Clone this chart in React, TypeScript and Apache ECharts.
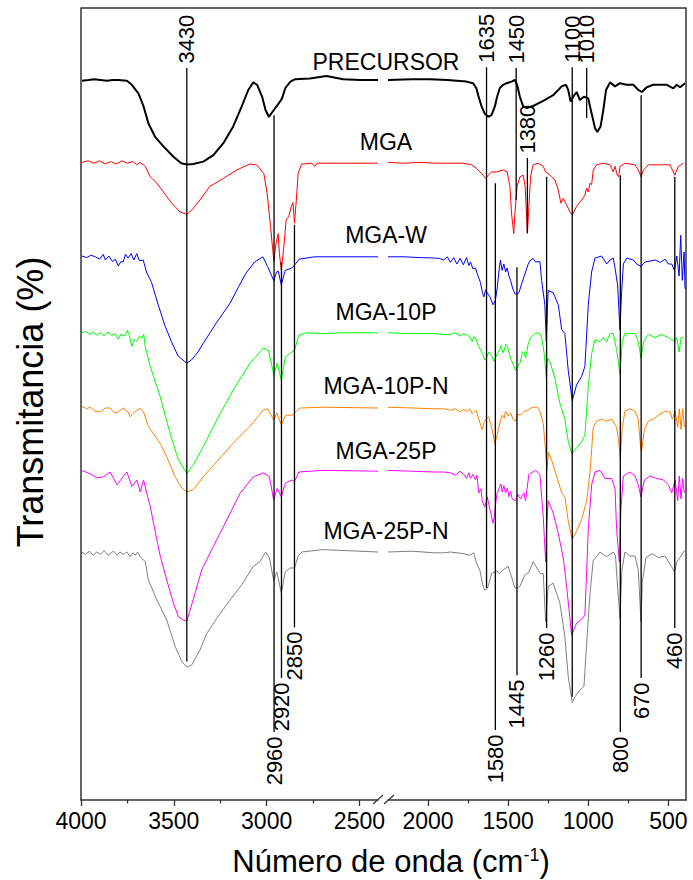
import React, { useEffect, useRef } from "react";
import * as echarts from "echarts";

type Pt = [number, number];

// FTIR spectra: [wavenumber (cm-1), transmittance (offset, %)]
const precursor: Pt[] = [
  [3995, 89.9], [3960, 90.0], [3930, 90.1], [3895, 90.0], [3860, 89.9], [3830, 90.0], [3800, 90.0], [3753, 89.9],
  [3726, 89.4], [3690, 88.3], [3663, 86.7], [3637, 84.6], [3601, 82.9], [3556, 81.7], [3502, 80.4], [3460, 79.6],
  [3430, 79.45], [3395, 79.5], [3341, 79.8], [3287, 80.6], [3233, 82.1], [3180, 84.2], [3134, 86.7], [3099, 88.75],
  [3072, 89.7], [3051, 89.4], [3024, 87.9], [3006, 86.25], [2988, 85.4], [2961, 86.25], [2934, 87.1], [2917, 87.7],
  [2899, 89.0], [2872, 89.8], [2845, 90.1], [2767, 90.2], [2678, 90.5], [2588, 90.1], [2498, 90.0], [2400, 90.0],
  [2250, 90.0], [2100, 90.1], [1989, 90.1], [1880, 90.0], [1760, 89.8], [1719, 89.6], [1698, 88.95], [1687, 88.1],
  [1666, 86.7], [1646, 85.8], [1625, 85.4], [1604, 85.6], [1583, 86.7], [1569, 87.9], [1552, 89.0], [1531, 89.4],
  [1510, 89.6], [1479, 89.8], [1458, 90.0], [1444, 89.4], [1427, 87.9], [1406, 86.7], [1385, 86.5], [1344, 86.75],
  [1281, 87.4], [1219, 88.1], [1166, 89.2], [1139, 89.4], [1125, 88.75], [1110, 87.3], [1094, 87.9], [1073, 88.5],
  [1052, 87.5], [1027, 87.9], [1000, 87.7], [979, 85.8], [958, 84.0], [944, 83.5], [923, 84.2], [906, 86.25],
  [889, 88.75], [864, 89.7], [833, 89.2], [802, 89.6], [760, 89.4], [719, 89.4], [687, 88.75], [666, 88.5],
  [635, 89.1], [594, 89.4], [510, 89.4], [469, 88.95], [448, 89.4], [427, 89.1], [396, 89.6],
];

const mga: Pt[] = [
  [3995, 79.7], [3960, 79.9], [3930, 79.6], [3900, 79.9], [3870, 79.5], [3840, 79.8], [3810, 79.5], [3780, 79.9],
  [3750, 79.6], [3720, 79.8], [3700, 79.4], [3681, 79.7], [3654, 79.2], [3627, 77.9], [3591, 77.1], [3556, 76.0],
  [3511, 74.6], [3466, 73.5], [3430, 73.2], [3403, 73.75], [3359, 75.0], [3306, 76.7], [3233, 77.7], [3161, 78.75],
  [3090, 79.5], [3054, 79.4], [3015, 78.3], [2997, 75.8], [2979, 71.7], [2961, 67.3], [2949, 69.6], [2938, 70.8],
  [2931, 68.3], [2921, 66.25], [2907, 69.2], [2895, 72.5], [2881, 72.9], [2867, 74.2], [2858, 74.7], [2850, 72.1],
  [2840, 75.0], [2830, 78.3], [2812, 79.5], [2758, 79.6], [2740, 79.2], [2728, 79.6], [2600, 79.6], [2400, 79.6],
  [2250, 79.7], [2150, 79.6], [2050, 79.7], [1950, 79.6], [1850, 79.6], [1781, 79.6], [1729, 79.4], [1698, 78.96],
  [1666, 78.3], [1640, 77.7], [1625, 78.1], [1604, 78.5], [1573, 78.5], [1531, 78.75], [1506, 78.5], [1489, 76.7],
  [1479, 73.3], [1465, 70.8], [1458, 73.3], [1444, 76.7], [1427, 77.9], [1406, 78.1], [1394, 76.7], [1385, 72.9],
  [1380, 70.8], [1373, 73.3], [1360, 77.9], [1344, 79.4], [1313, 79.6], [1281, 79.2], [1266, 78.5], [1250, 78.3],
  [1229, 77.9], [1208, 77.5], [1187, 76.25], [1171, 74.6], [1156, 75.2], [1135, 74.4], [1114, 73.5], [1100, 73.1],
  [1073, 74.2], [1041, 75.0], [1021, 75.6], [1010, 76.5], [1000, 76.0], [989, 77.1], [979, 76.9], [969, 78.75],
  [948, 79.4], [906, 79.6], [864, 79.4], [844, 78.5], [833, 79.2], [819, 78.1], [810, 77.9], [802, 79.2],
  [771, 79.6], [708, 79.4], [687, 78.75], [670, 77.9], [656, 78.75], [625, 79.4], [552, 79.4], [490, 79.4],
  [469, 78.5], [460, 78.1], [438, 79.2], [406, 79.6],
];

const mgaW: Pt[] = [
  [3995, 68.0], [3970, 67.8], [3945, 68.1], [3923, 67.9], [3900, 67.6], [3880, 68.2], [3869, 67.5], [3850, 68.0],
  [3830, 67.3], [3815, 67.6], [3799, 66.75], [3785, 67.3], [3773, 67.25], [3760, 68.2], [3746, 67.75], [3730, 68.3],
  [3715, 67.5], [3700, 68.3], [3685, 67.4], [3665, 67.5], [3647, 66.0], [3620, 64.7], [3584, 61.9], [3548, 59.3],
  [3513, 57.3], [3477, 55.5], [3430, 54.6], [3405, 55.0], [3370, 56.0], [3341, 57.1], [3269, 59.7], [3197, 62.1],
  [3150, 64.2], [3110, 65.9], [3065, 67.25], [3020, 67.9], [2995, 66.7], [2961, 64.9], [2947, 66.0], [2937, 66.1],
  [2921, 64.4], [2900, 66.2], [2864, 66.5], [2845, 67.0], [2825, 67.6], [2742, 67.9], [2400, 67.9],
  [2250, 67.9], [2150, 67.9], [2050, 67.8], [1964, 67.75], [1930, 67.7], [1902, 67.5], [1880, 67.9], [1860, 67.2],
  [1840, 67.8], [1820, 67.0], [1800, 67.7], [1780, 66.9], [1760, 67.8], [1745, 66.8], [1735, 67.25], [1720, 66.4],
  [1704, 66.5], [1690, 65.6], [1673, 64.7], [1660, 63.4], [1652, 62.9], [1640, 63.8], [1631, 63.4], [1614, 62.9],
  [1594, 61.9], [1580, 62.4], [1569, 63.9], [1555, 66.5], [1548, 67.5], [1538, 66.2], [1527, 67.0], [1516, 66.0],
  [1506, 66.5], [1495, 65.5], [1485, 64.95], [1470, 63.8], [1454, 63.2], [1433, 63.4], [1413, 64.7], [1391, 66.0],
  [1375, 67.0], [1360, 67.5], [1344, 67.7], [1329, 67.25], [1302, 67.3], [1291, 64.95], [1271, 61.9], [1262, 57.3],
  [1254, 61.9], [1250, 63.7], [1219, 63.4], [1187, 61.9], [1166, 58.8], [1146, 58.3], [1125, 53.7], [1100, 49.9],
  [1073, 51.9], [1041, 52.96], [1021, 54.2], [1000, 61.9], [979, 66.0], [958, 67.75], [917, 68.0], [885, 67.0],
  [864, 67.5], [844, 67.75], [833, 66.5], [817, 64.4], [802, 58.8], [792, 63.4], [781, 67.0], [760, 67.75],
  [719, 67.5], [698, 67.0], [671, 66.7], [646, 67.25], [583, 67.5], [550, 67.2], [520, 67.6], [500, 67.0],
  [479, 67.0], [462, 66.2], [448, 68.0], [433, 65.5], [423, 70.6], [413, 64.95], [402, 68.5], [396, 63.9],
];

const mga10P: Pt[] = [
  [3995, 58.4], [3975, 58.6], [3955, 58.2], [3935, 58.5], [3915, 58.1], [3895, 58.4], [3875, 58.0], [3855, 58.5],
  [3835, 58.1], [3815, 58.3], [3799, 57.6], [3785, 58.2], [3765, 58.0], [3750, 58.7], [3740, 58.1], [3726, 56.7],
  [3713, 57.6], [3699, 57.3], [3685, 58.0], [3672, 57.7], [3662, 58.2], [3654, 56.7], [3627, 54.2], [3573, 50.4],
  [3520, 45.8], [3475, 42.5], [3430, 40.8], [3395, 41.9], [3341, 44.2], [3269, 47.5], [3180, 51.25], [3090, 54.6],
  [3018, 56.5], [2990, 56.2], [2961, 53.1], [2943, 54.6], [2921, 52.5], [2899, 55.4], [2863, 56.0], [2849, 56.25],
  [2827, 58.1], [2785, 58.4], [2700, 58.3], [2600, 58.4], [2400, 58.4],
  [2250, 58.4], [2100, 58.3], [1964, 58.3], [1900, 58.2], [1860, 58.2], [1830, 58.4], [1800, 58.0], [1780, 58.3],
  [1756, 58.1], [1740, 57.9], [1725, 57.3], [1714, 57.9], [1704, 57.8], [1690, 57.0], [1673, 56.3], [1660, 55.8],
  [1646, 55.0], [1635, 55.3], [1621, 56.0], [1605, 55.6], [1589, 54.85], [1580, 55.2], [1569, 55.8], [1555, 56.2],
  [1544, 56.8], [1533, 55.9], [1523, 56.3], [1515, 57.0], [1506, 56.8], [1495, 56.0], [1485, 55.25], [1470, 54.5],
  [1454, 53.7], [1440, 54.2], [1423, 54.75], [1412, 56.0], [1402, 56.0], [1391, 55.25], [1375, 57.0], [1360, 57.8],
  [1329, 58.4], [1302, 58.3], [1291, 57.8], [1275, 55.8], [1262, 52.7], [1254, 55.25], [1239, 54.75], [1208, 52.7],
  [1177, 49.6], [1146, 47.6], [1125, 44.8], [1102, 43.3], [1073, 44.0], [1041, 44.8], [1021, 45.6], [1000, 51.7],
  [979, 55.8], [958, 57.55], [927, 57.3], [906, 57.8], [885, 57.3], [864, 58.3], [844, 58.3], [823, 56.3],
  [802, 53.2], [788, 57.3], [771, 58.3], [708, 58.3], [688, 57.3], [671, 55.25], [654, 57.3], [625, 58.2],
  [583, 57.8], [542, 58.2], [500, 57.8], [462, 57.3], [448, 57.8], [433, 56.0], [421, 57.8], [406, 57.8],
];

const mga10PN: Pt[] = [
  [3995, 49.2], [3970, 48.9], [3950, 49.1], [3925, 48.6], [3896, 48.5], [3870, 49.0], [3843, 49.0], [3820, 48.4],
  [3799, 48.5], [3773, 49.0], [3746, 48.5], [3735, 47.9], [3720, 48.3], [3699, 48.75], [3681, 48.95], [3663, 48.5],
  [3637, 46.7], [3610, 45.8], [3574, 44.6], [3538, 42.9], [3493, 40.4], [3457, 39.0], [3430, 38.5], [3395, 38.8],
  [3341, 40.4], [3269, 42.3], [3180, 44.6], [3090, 46.7], [3018, 48.75], [2995, 48.9], [2961, 47.5], [2945, 48.4],
  [2921, 46.9], [2897, 48.1], [2860, 48.1], [2845, 48.5], [2820, 49.0], [2700, 49.1], [2400, 49.0],
  [2250, 49.1], [2100, 49.0], [1964, 48.9], [1900, 48.9], [1860, 48.7], [1830, 48.9], [1800, 48.5], [1780, 48.8],
  [1756, 48.6], [1740, 48.9], [1725, 48.3], [1714, 48.4], [1700, 48.7], [1683, 47.6], [1662, 46.3], [1650, 47.2],
  [1641, 47.6], [1621, 47.9], [1600, 46.3], [1583, 44.5], [1570, 45.5], [1558, 46.6], [1545, 47.6], [1537, 48.1],
  [1525, 47.7], [1516, 48.6], [1500, 48.0], [1485, 48.4], [1470, 47.6], [1454, 47.35], [1440, 48.2], [1423, 48.1],
  [1400, 48.6], [1381, 48.7], [1350, 49.1], [1319, 49.1], [1302, 48.6], [1281, 47.1], [1266, 43.5], [1258, 41.2],
  [1248, 43.5], [1229, 42.5], [1198, 40.5], [1166, 38.4], [1146, 37.9], [1125, 34.85], [1100, 32.6], [1073, 33.6],
  [1041, 35.1], [1010, 37.4], [989, 41.0], [969, 46.6], [948, 47.35], [917, 47.6], [885, 47.35], [854, 47.6],
  [823, 46.6], [808, 44.5], [800, 42.6], [788, 46.6], [771, 48.6], [740, 48.9], [708, 48.6], [688, 47.6],
  [675, 44.5], [668, 43.5], [650, 46.3], [625, 47.35], [594, 47.6], [563, 48.1], [521, 48.6], [490, 48.5],
  [475, 47.6], [458, 48.6], [442, 46.6], [432, 48.9], [421, 46.3], [411, 48.9], [400, 46.6],
];

const mga25P: Pt[] = [
  [3995, 41.2], [3950, 40.75], [3912, 40.25], [3879, 40.4], [3843, 41.0], [3806, 39.4], [3778, 40.25], [3753, 41.0],
  [3726, 39.2], [3699, 40.0], [3681, 38.5], [3663, 40.0], [3645, 38.3], [3627, 36.7], [3591, 32.5], [3574, 30.6],
  [3538, 27.5], [3502, 24.6], [3475, 22.9], [3448, 22.5], [3430, 22.4], [3418, 23.3], [3386, 25.8], [3350, 28.75],
  [3287, 31.7], [3215, 35.0], [3144, 38.3], [3072, 40.4], [3018, 40.9], [2985, 40.4], [2962, 37.5], [2943, 38.96],
  [2921, 37.9], [2899, 39.6], [2863, 40.0], [2850, 39.8], [2827, 41.0], [2700, 41.2], [2400, 41.1],
  [2250, 41.2], [2100, 41.1], [1964, 41.0], [1900, 41.0], [1860, 40.9], [1830, 40.6], [1800, 41.1], [1777, 40.7],
  [1760, 40.2], [1745, 40.9], [1735, 40.2], [1720, 40.7], [1704, 40.0], [1695, 40.6], [1683, 38.4], [1670, 38.9],
  [1662, 37.4], [1646, 36.6], [1631, 37.9], [1614, 36.4], [1595, 34.6], [1585, 35.5], [1579, 36.9], [1570, 38.3],
  [1558, 38.9], [1545, 39.5], [1537, 38.5], [1527, 39.3], [1516, 38.4], [1505, 39.0], [1495, 37.9], [1485, 38.6],
  [1475, 37.65], [1454, 37.4], [1440, 38.2], [1423, 37.65], [1402, 38.4], [1391, 37.4], [1371, 40.7], [1329, 41.2],
  [1302, 40.7], [1281, 35.4], [1266, 29.75], [1258, 34.85], [1250, 37.4], [1219, 35.9], [1187, 33.3], [1156, 30.25],
  [1135, 26.7], [1114, 22.6], [1104, 20.6], [1073, 22.1], [1041, 22.6], [1021, 23.1], [1010, 28.7], [1000, 33.8],
  [979, 39.4], [958, 41.0], [927, 41.2], [896, 40.2], [854, 40.2], [833, 38.9], [823, 33.8], [806, 29.75],
  [796, 36.4], [781, 40.5], [740, 41.0], [708, 40.5], [688, 39.4], [671, 37.9], [650, 40.0], [615, 40.5],
  [573, 40.2], [531, 40.0], [500, 39.4], [479, 38.4], [458, 40.0], [442, 37.4], [432, 40.5], [421, 37.65],
  [411, 40.2], [400, 38.4],
];

const mga25PN: Pt[] = [
  [3995, 31.0], [3975, 30.7], [3955, 31.1], [3935, 30.6], [3915, 31.0], [3895, 30.7], [3875, 31.2], [3855, 30.6],
  [3843, 30.8], [3825, 31.1], [3805, 30.6], [3790, 31.0], [3770, 30.7], [3753, 31.0], [3735, 30.4], [3720, 30.9],
  [3708, 30.6], [3695, 31.0], [3681, 30.4], [3654, 29.8], [3637, 27.5], [3591, 25.0], [3538, 22.5], [3493, 19.2],
  [3457, 17.3], [3430, 16.6], [3403, 16.9], [3359, 18.75], [3323, 20.8], [3269, 22.7], [3197, 25.0], [3134, 26.9],
  [3072, 29.2], [3036, 29.8], [3005, 31.0], [2985, 30.25], [2962, 27.45], [2945, 28.5], [2921, 25.9], [2900, 28.5],
  [2874, 29.0], [2850, 29.0], [2830, 30.5], [2810, 31.0], [2700, 31.3], [2600, 31.2], [2400, 31.0],
  [2250, 31.0], [2100, 31.1], [1964, 30.9], [1900, 30.9], [1860, 31.0], [1781, 30.8], [1740, 30.6], [1715, 30.9],
  [1698, 29.6], [1677, 28.75], [1656, 26.7], [1646, 26.25], [1635, 26.3], [1625, 26.7], [1604, 28.3], [1583, 28.5],
  [1570, 28.6], [1555, 28.3], [1531, 28.75], [1500, 29.2], [1479, 27.9], [1458, 26.5], [1445, 26.5], [1427, 26.7],
  [1396, 28.1], [1370, 28.5], [1344, 29.8], [1300, 28.3], [1281, 28.3], [1266, 22.3], [1250, 26.7], [1219, 27.1],
  [1177, 24.6], [1146, 20.4], [1125, 15.4], [1100, 12.2], [1083, 12.9], [1052, 13.75], [1027, 14.2], [1010, 19.6],
  [989, 25.8], [969, 30.0], [948, 30.4], [927, 31.0], [885, 30.4], [844, 31.0], [830, 30.5], [820, 27.5],
  [802, 22.7], [790, 28.75], [771, 31.0], [740, 30.5], [708, 30.5], [688, 28.75], [677, 24.6], [671, 22.3],
  [663, 27.2], [640, 30.3], [600, 30.8], [563, 30.3], [521, 30.5], [480, 29.2], [462, 28.5], [448, 29.7],
  [421, 30.5], [400, 31.2],
];

const sampleNames = ["PRECURSOR", "MGA", "MGA-W", "MGA-10P", "MGA-10P-N", "MGA-25P", "MGA-25P-N"];
const sampleSpectra = [precursor, mga, mgaW, mga10P, mga10PN, mga25P, mga25PN];
const sampleColors = ["#000000", "#ff0000", "#0000ff", "#00ff00", "#ff8000", "#ff00ff", "#808080"];

// Band assignments: [wavenumber, line top, line bottom, label side]
const bands: [number, number, number, "up" | "down"][] = [
  [3430, 91.5, 17.3, "up"],
  [2960, 85.6, 8.5, "down"],
  [2920, 67.2, 15.25, "down"],
  [2850, 71.9, 21.6, "down"],
  [1635, 91.6, 26.5, "up"],
  [1450, 91.5, 75.0, "up"],
  [1380, 80.25, 70.9, "up"],
  [1100, 91.6, 12.9, "up"],
  [1010, 91.5, 85.25, "up"],
  [1580, 77.1, 8.75, "down"],
  [1445, 66.6, 15.6, "down"],
  [1260, 77.9, 21.5, "down"],
  [800, 78.1, 8.5, "down"],
  [670, 88.1, 15.25, "down"],
  [460, 77.9, 21.5, "down"],
];

const leftMajorTicks = [4000, 3500, 3000, 2500];
const leftMinorTicks = [3750, 3250, 2750];
const rightMajorTicks = [2000, 1500, 1000, 500];
const rightMinorTicks = [1750, 1250, 750];

const LEFT_RANGE = [2400, 4000];
const RIGHT_RANGE = [390, 2250];
const Y_RANGE = [0, 99];

const FONT = '"Liberation Sans", Arial, Helvetica, sans-serif';
const AXIS_COLOR = "#333";

function segmentOf(wn: number): number {
  return wn >= LEFT_RANGE[0] ? 0 : 1;
}

function buildOption() {
  const gridBox = [
    { left: 81, top: 8, width: 297, height: 792 },
    { left: 388, top: 8, width: 298, height: 792 },
  ];

  const xMain = (gi: number, ticks: number[]) => ({
    gridIndex: gi,
    type: "value",
    inverse: true,
    min: gi === 0 ? LEFT_RANGE[0] : RIGHT_RANGE[0],
    max: gi === 0 ? LEFT_RANGE[1] : RIGHT_RANGE[1],
    position: "bottom",
    axisLine: { show: true, onZero: false, lineStyle: { color: AXIS_COLOR, width: 1.5 } },
    axisTick: { show: true, customValues: ticks, length: 6, lineStyle: { color: AXIS_COLOR, width: 1.3 } },
    axisLabel: {
      show: true,
      customValues: ticks,
      formatter: (v: number) => String(v),
      fontSize: 23,
      color: "#000",
      fontFamily: FONT,
      margin: 9,
    },
    splitLine: { show: false },
  });
  const xMinor = (gi: number, ticks: number[]) => ({
    gridIndex: gi,
    type: "value",
    inverse: true,
    min: gi === 0 ? LEFT_RANGE[0] : RIGHT_RANGE[0],
    max: gi === 0 ? LEFT_RANGE[1] : RIGHT_RANGE[1],
    position: "bottom",
    axisLine: { show: false, onZero: false },
    axisTick: { show: true, customValues: ticks, length: 3.5, lineStyle: { color: AXIS_COLOR, width: 1.3 } },
    axisLabel: { show: false },
    splitLine: { show: false },
  });

  const yAxis = [0, 1].map((gi) => ({
    gridIndex: gi,
    type: "value",
    min: Y_RANGE[0],
    max: Y_RANGE[1],
    position: gi === 0 ? "left" : "right",
    axisLine: { show: true, onZero: false, lineStyle: { color: AXIS_COLOR, width: 1.5 } },
    axisTick: { show: false },
    axisLabel: { show: false },
    splitLine: { show: false },
  }));

  const series: any[] = [];

  sampleSpectra.forEach((spec, i) => {
    [0, 1].forEach((gi) => {
      const part = spec.filter((p) => (gi === 0 ? p[0] >= LEFT_RANGE[0] : p[0] <= RIGHT_RANGE[1]));
      series.push({
        name: sampleNames[i],
        type: "line",
        xAxisIndex: gi,
        yAxisIndex: gi,
        data: part,
        symbol: "none",
        showSymbol: false,
        silent: true,
        z: 2,
        lineStyle: { color: sampleColors[i], width: i === 0 ? 2 : 1 },
      });
    });
  });

  bands.forEach(([wn, top, bottom]) => {
    const gi = segmentOf(wn);
    series.push({
      type: "line",
      xAxisIndex: gi,
      yAxisIndex: gi,
      data: [
        [wn, top],
        [wn, bottom],
      ],
      symbol: "none",
      showSymbol: false,
      silent: true,
      z: 4,
      lineStyle: { color: "#000", width: 1.3 },
    });
  });

  const GAP = 0.55;
  [0, 1].forEach((gi) => {
    series.push({
      type: "scatter",
      xAxisIndex: gi,
      yAxisIndex: gi,
      symbolSize: 0.1,
      silent: true,
      z: 5,
      itemStyle: { color: "transparent" },
      label: {
        show: true,
        position: "inside",
        rotate: 90,
        fontSize: 22,
        color: "#000",
        opacity: 1,
        textBorderWidth: 0,
        textBorderColor: "transparent",
        fontFamily: FONT,
        formatter: "{b}",
        verticalAlign: "middle",
      },
      data: bands
        .filter(([wn]) => segmentOf(wn) === gi)
        .map(([wn, top, bottom, side]) => ({
          name: String(wn),
          value: side === "up" ? [wn, top + GAP] : [wn, bottom - GAP],
          label: { align: side === "up" ? "left" : "right" },
        })),
    });
  });

  const nameY = [62, 142, 235, 312, 386, 451, 531];
  const graphic: any[] = [
    {
      type: "line",
      shape: { x1: 81, y1: 8, x2: 686, y2: 8 },
      style: { stroke: AXIS_COLOR, lineWidth: 1.5 },
    },
    {
      type: "line",
      shape: { x1: 373, y1: 804, x2: 383, y2: 795 },
      style: { stroke: AXIS_COLOR, lineWidth: 1.2 },
    },
    {
      type: "line",
      shape: { x1: 384, y1: 804, x2: 394, y2: 795 },
      style: { stroke: AXIS_COLOR, lineWidth: 1.2 },
    },
    {
      type: "text",
      x: 30,
      y: 402,
      rotation: Math.PI / 2,
      style: {
        text: "Transmitancia (%)",
        fontSize: 36,
        fontFamily: FONT,
        fill: "#000",
        align: "center",
        verticalAlign: "middle",
      },
    },
    {
      type: "text",
      x: 391,
      y: 861,
      style: {
        text: "{a|Número de onda (cm}{s|-1}{a|)}",
        rich: {
          a: { fontSize: 31, fontFamily: FONT, fill: "#000" },
          s: { fontSize: 18, fontFamily: FONT, fill: "#000", verticalAlign: "top" },
        },
        align: "center",
        verticalAlign: "middle",
      },
    },
  ];
  sampleNames.forEach((nm, i) => {
    graphic.push({
      type: "text",
      x: 386,
      y: nameY[i],
      style: {
        text: nm,
        fontSize: 23,
        fontFamily: FONT,
        fill: "#000",
        align: "center",
        verticalAlign: "middle",
      },
    });
  });

  return {
    animation: false,
    backgroundColor: "#fff",
    grid: gridBox,
    xAxis: [
      xMain(0, leftMajorTicks),
      xMain(1, rightMajorTicks),
      xMinor(0, leftMinorTicks),
      xMinor(1, rightMinorTicks),
    ],
    yAxis,
    series,
    graphic,
  };
}

export default function App() {
  const ref = useRef<HTMLDivElement>(null);
  useEffect(() => {
    if (!ref.current) return;
    const chart = echarts.init(ref.current, null, { renderer: "svg" });
    chart.setOption(buildOption() as any);
    return () => chart.dispose();
  }, []);
  return (
    <div
      ref={ref}
      style={{ position: "absolute", left: 0, top: 0, width: 693, height: 880, background: "#fff" }}
    />
  );
}
